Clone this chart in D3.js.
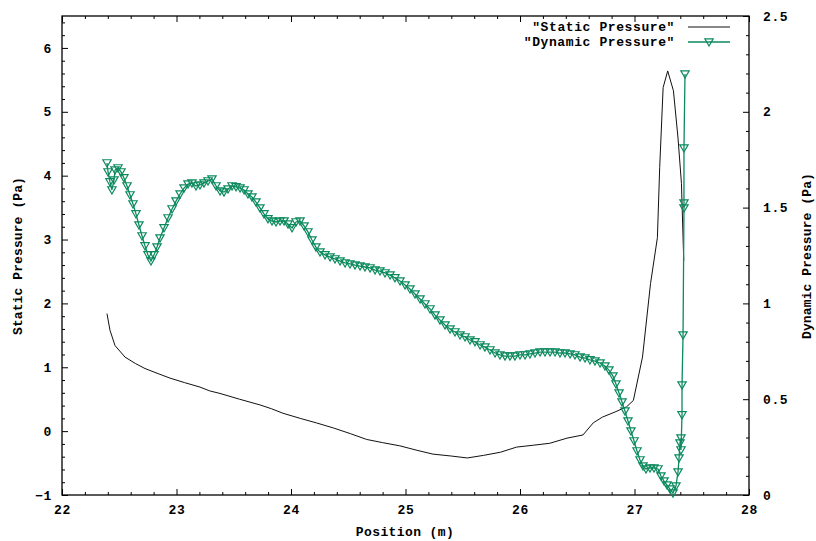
<!DOCTYPE html>
<html>
<head>
<meta charset="utf-8">
<script src="https://cdn.jsdelivr.net/npm/d3@7"></script>
<style>
  html, body { margin: 0; padding: 0; background: #fff; }
  svg { display: block; }
  text { font-family: "Liberation Mono", "DejaVu Sans Mono", monospace; font-weight: bold; fill: #000; }
</style>
</head>
<body>
<svg id="chart" width="816" height="541"></svg>
<script>
// ---- data ----
const xTicks = [22, 23, 24, 25, 26, 27, 28];
const yLeftTicks = [-1, 0, 1, 2, 3, 4, 5, 6];
const yRightTicks = [0, 0.5, 1, 1.5, 2, 2.5];
const seriesNames = ['"Static Pressure"', '"Dynamic Pressure"'];

const staticX = [22.393, 22.419, 22.463, 22.55, 22.64, 22.725, 22.84, 22.943, 23.07, 23.205, 23.29, 23.38, 23.55, 23.73, 23.83, 23.93, 24.08, 24.22, 24.37, 24.52, 24.66, 24.80, 24.95, 25.10, 25.24, 25.40, 25.54, 25.68, 25.83, 25.97, 26.12, 26.26, 26.41, 26.55, 26.64, 26.72, 26.83, 26.93, 26.99, 27.07, 27.14, 27.20, 27.22, 27.25, 27.29, 27.34, 27.38, 27.41, 27.43];
const staticY = [1.84, 1.58, 1.34, 1.16, 1.06, 0.98, 0.90, 0.83, 0.76, 0.69, 0.63, 0.59, 0.50, 0.41, 0.35, 0.28, 0.20, 0.13, 0.05, -0.04, -0.13, -0.18, -0.23, -0.30, -0.36, -0.39, -0.42, -0.38, -0.33, -0.25, -0.22, -0.19, -0.11, -0.06, 0.13, 0.22, 0.30, 0.38, 0.48, 1.16, 2.31, 3.03, 4.13, 5.38, 5.64, 5.33, 4.59, 3.88, 2.67];

const dynX = [22.393, 22.402, 22.419, 22.436, 22.454, 22.463, 22.489, 22.515, 22.541, 22.568, 22.594, 22.620, 22.646, 22.672, 22.699, 22.725, 22.751, 22.777, 22.803, 22.830, 22.856, 22.891, 22.926, 22.961, 22.996, 23.031, 23.066, 23.100, 23.135, 23.170, 23.205, 23.240, 23.275, 23.310, 23.345, 23.380, 23.415, 23.450, 23.485, 23.520, 23.555, 23.590, 23.624, 23.659, 23.694, 23.729, 23.764, 23.799, 23.834, 23.869, 23.904, 23.939, 23.974, 24.009, 24.044, 24.079, 24.114, 24.148, 24.183, 24.218, 24.253, 24.297, 24.341, 24.384, 24.428, 24.472, 24.515, 24.559, 24.603, 24.646, 24.690, 24.734, 24.777, 24.821, 24.865, 24.908, 24.952, 24.996, 25.039, 25.083, 25.127, 25.170, 25.214, 25.258, 25.301, 25.345, 25.389, 25.432, 25.476, 25.520, 25.563, 25.607, 25.651, 25.694, 25.738, 25.782, 25.825, 25.869, 25.913, 25.956, 26.000, 26.044, 26.087, 26.131, 26.175, 26.218, 26.262, 26.306, 26.349, 26.393, 26.437, 26.480, 26.524, 26.568, 26.611, 26.655, 26.699, 26.742, 26.777, 26.812, 26.838, 26.865, 26.891, 26.917, 26.943, 26.969, 26.996, 27.022, 27.048, 27.074, 27.100, 27.135, 27.170, 27.205, 27.231, 27.258, 27.284, 27.310, 27.336, 27.362, 27.380, 27.389, 27.397, 27.406, 27.406, 27.415, 27.415, 27.424, 27.432, 27.432, 27.432, 27.441];
const dynY = [1.733, 1.686, 1.634, 1.592, 1.644, 1.696, 1.707, 1.686, 1.655, 1.613, 1.566, 1.519, 1.467, 1.409, 1.352, 1.300, 1.253, 1.221, 1.253, 1.294, 1.341, 1.394, 1.446, 1.493, 1.534, 1.571, 1.602, 1.623, 1.628, 1.613, 1.618, 1.628, 1.639, 1.649, 1.613, 1.587, 1.581, 1.597, 1.613, 1.608, 1.602, 1.592, 1.571, 1.555, 1.529, 1.498, 1.467, 1.441, 1.430, 1.425, 1.430, 1.430, 1.414, 1.394, 1.425, 1.430, 1.404, 1.373, 1.331, 1.294, 1.268, 1.253, 1.242, 1.232, 1.221, 1.211, 1.206, 1.200, 1.195, 1.190, 1.185, 1.174, 1.169, 1.159, 1.148, 1.133, 1.117, 1.096, 1.075, 1.049, 1.023, 0.997, 0.971, 0.939, 0.913, 0.887, 0.866, 0.851, 0.835, 0.825, 0.809, 0.799, 0.783, 0.772, 0.757, 0.741, 0.731, 0.725, 0.725, 0.725, 0.731, 0.731, 0.736, 0.741, 0.746, 0.746, 0.746, 0.746, 0.741, 0.741, 0.736, 0.731, 0.720, 0.715, 0.705, 0.699, 0.689, 0.673, 0.652, 0.621, 0.579, 0.532, 0.485, 0.438, 0.386, 0.334, 0.282, 0.230, 0.183, 0.151, 0.136, 0.141, 0.141, 0.136, 0.099, 0.073, 0.052, 0.031, 0.010, 0.047, 0.120, 0.193, 0.271, 0.297, 0.235, 0.418, 0.574, 0.835, 1.498, 1.524, 1.811, 2.197];

// ---- layout ----
const L = 62, R = 749, T = 16, B = 495;
const green = "#0c8a5e";
const svg = d3.select("#chart");

const x = d3.scaleLinear().domain([22, 28]).range([L, R]);
const yL = d3.scaleLinear().domain([-1, 6.5]).range([B, T]);
const yR = d3.scaleLinear().domain([0, 2.5]).range([B, T]);

function minorTicks(major) {
  const out = [];
  for (let i = 0; i < major.length - 1; i++) {
    for (let k = 1; k < 5; k++) out.push(major[i] + k * (major[i + 1] - major[i]) / 5);
  }
  return out;
}
const xMinor = minorTicks(xTicks);
const yLMinor = minorTicks(yLeftTicks.concat([7])).filter(v => v <= 6.5);
const yRMinor = minorTicks(yRightTicks);

function styleAxis(g) {
  g.selectAll(".domain").remove();
  g.selectAll("line").attr("stroke", "#000").attr("stroke-width", 1);
  g.selectAll("text").attr("font-size", 13).attr("letter-spacing", "0.6px")
    .attr("font-family", "Liberation Mono, DejaVu Sans Mono, monospace").attr("font-weight", "bold");
}

// bottom
svg.append("g").attr("transform", `translate(0,${B})`)
  .call(d3.axisBottom(x).tickValues(xTicks).tickSize(-6).tickSizeOuter(0).tickPadding(10).tickFormat(d3.format("d")))
  .call(styleAxis);
svg.append("g").attr("transform", `translate(0,${B})`)
  .call(d3.axisBottom(x).tickValues(xMinor).tickSize(-3).tickSizeOuter(0).tickFormat(""))
  .call(styleAxis);
// top (mirror)
svg.append("g").attr("transform", `translate(0,${T})`)
  .call(d3.axisTop(x).tickValues(xTicks).tickSize(-6).tickSizeOuter(0).tickFormat(""))
  .call(styleAxis);
svg.append("g").attr("transform", `translate(0,${T})`)
  .call(d3.axisTop(x).tickValues(xMinor).tickSize(-3).tickSizeOuter(0).tickFormat(""))
  .call(styleAxis);
// left
svg.append("g").attr("transform", `translate(${L},0)`)
  .call(d3.axisLeft(yL).tickValues(yLeftTicks).tickSize(-6).tickSizeOuter(0).tickPadding(10).tickFormat(d3.format("d")))
  .call(styleAxis);
svg.append("g").attr("transform", `translate(${L},0)`)
  .call(d3.axisLeft(yL).tickValues(yLMinor).tickSize(-3).tickSizeOuter(0).tickFormat(""))
  .call(styleAxis);
// right
svg.append("g").attr("transform", `translate(${R},0)`)
  .call(d3.axisRight(yR).tickValues(yRightTicks).tickSize(-6).tickSizeOuter(0).tickPadding(14).tickFormat(d => String(d)))
  .call(styleAxis);
svg.append("g").attr("transform", `translate(${R},0)`)
  .call(d3.axisRight(yR).tickValues(yRMinor).tickSize(-3).tickSizeOuter(0).tickFormat(""))
  .call(styleAxis);

// frame
svg.append("rect").attr("x", L).attr("y", T).attr("width", R - L).attr("height", B - T)
  .attr("fill", "none").attr("stroke", "#000").attr("stroke-width", 1.3);

// axis titles
svg.append("text").attr("x", 405).attr("y", 536).attr("text-anchor", "middle")
  .attr("font-size", 13).attr("letter-spacing", "0.4px").text("Position (m)");
svg.append("text").attr("transform", "translate(22,256) rotate(-90)").attr("text-anchor", "middle")
  .attr("font-size", 13).attr("letter-spacing", "0.1px").text("Static Pressure (Pa)");
svg.append("text").attr("transform", "translate(811,256) rotate(-90)").attr("text-anchor", "middle")
  .attr("font-size", 13).attr("letter-spacing", "0.1px").text("Dynamic Pressure (Pa)");

// series
const staticData = staticX.map((v, i) => [v, staticY[i]]);
const dynData = dynX.map((v, i) => [v, dynY[i]]);

svg.append("path").datum(staticData)
  .attr("fill", "none").attr("stroke", "#111").attr("stroke-width", 1)
  .attr("d", d3.line().x(d => x(d[0])).y(d => yL(d[1])));

svg.append("path").datum(dynData)
  .attr("fill", "none").attr("stroke", green).attr("stroke-width", 1.3)
  .attr("d", d3.line().x(d => x(d[0])).y(d => yR(d[1])));

const tri = d3.symbol().type(d3.symbolTriangle).size(30);
svg.append("g").selectAll("path").data(dynData).join("path")
  .attr("d", tri)
  .attr("transform", d => `translate(${x(d[0])},${yR(d[1]) - 0.8}) rotate(180)`)
  .attr("fill", "none").attr("stroke", green).attr("stroke-width", 1.2);

// legend
const lg = svg.append("g");
lg.append("text").attr("x", 675).attr("y", 31).attr("text-anchor", "end")
  .attr("font-size", 13).attr("letter-spacing", "0.6px").text(seriesNames[0]);
lg.append("line").attr("x1", 688).attr("x2", 730).attr("y1", 27).attr("y2", 27)
  .attr("stroke", "#111").attr("stroke-width", 1);
lg.append("text").attr("x", 675).attr("y", 46).attr("text-anchor", "end")
  .attr("font-size", 13).attr("letter-spacing", "0.6px").text(seriesNames[1]);
lg.append("line").attr("x1", 688).attr("x2", 730).attr("y1", 42).attr("y2", 42)
  .attr("stroke", green).attr("stroke-width", 1.3);
lg.append("path").attr("d", tri).attr("transform", "translate(709,41.2) rotate(180)")
  .attr("fill", "none").attr("stroke", green).attr("stroke-width", 1.2);
</script>
</body>
</html>
